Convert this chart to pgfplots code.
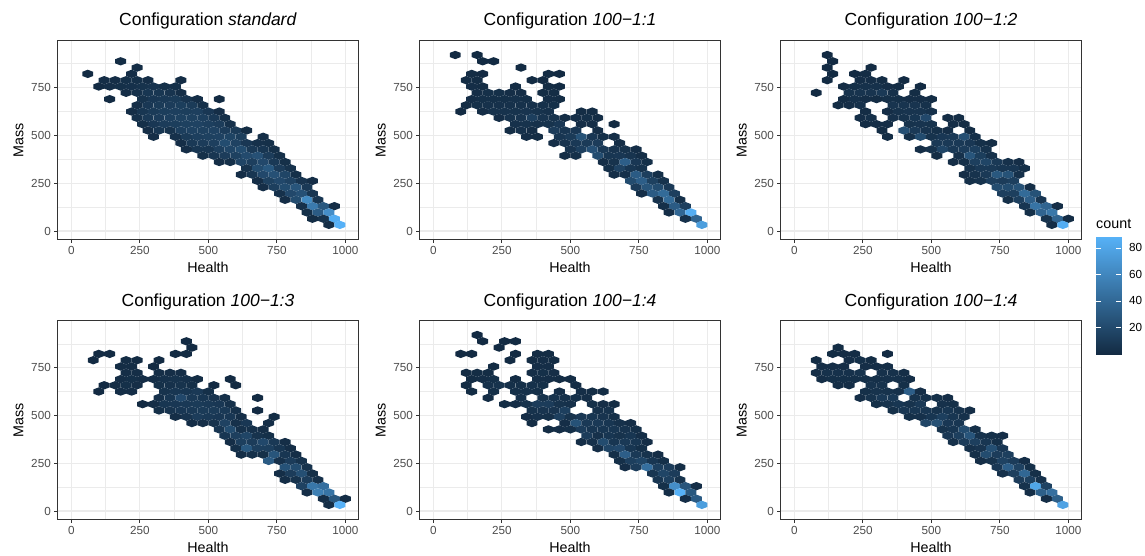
\documentclass[border=0pt]{standalone}
\usepackage{pgfplots}
\usepackage{fontspec}
\setmainfont{Liberation Sans}
\pgfplotsset{compat=1.18}
\definecolor{gridc}{HTML}{EBEBEB}
\definecolor{framec}{HTML}{333333}
\definecolor{tickc}{HTML}{4D4D4D}
\pgfdeclareplotmark{hex}{%
  \pgfpathmoveto{\pgfqpoint{0pt}{4.17pt}}%
  \pgfpathlineto{\pgfqpoint{5.45pt}{2.09pt}}%
  \pgfpathlineto{\pgfqpoint{5.45pt}{-2.09pt}}%
  \pgfpathlineto{\pgfqpoint{0pt}{-4.17pt}}%
  \pgfpathlineto{\pgfqpoint{-5.45pt}{-2.09pt}}%
  \pgfpathlineto{\pgfqpoint{-5.45pt}{2.09pt}}%
  \pgfpathclose\pgfusepathqfill}
\pgfplotsset{
  colormap={gg}{rgb255=(19,43,67) rgb255=(86,177,247)},
  hexpanel/.style={
    anchor=south west, scale only axis, width=301pt, height=199pt,
    xmin=-50.4, xmax=1048, ymin=-44.5, ymax=996.8,
    xtick={0,250,500,750,1000}, ytick={0,250,500,750},
    minor xtick={125,375,625,875}, minor ytick={125,375,625,875},
    grid=both,
    major grid style={color=gridc, line width=1.1pt},
    minor grid style={color=gridc, line width=0.55pt},
    tick align=outside, tick pos=left,
    major tick length=3.2pt, minor tick length=0pt,
    tick style={color=framec, line width=0.9pt},
    axis line style={color=framec, line width=1.1pt},
    ticklabel style={font=\fontsize{11.7}{13}\selectfont, text=tickc},
    /pgf/number format/assume math mode=true,
    /pgf/number format/1000 sep={},
    xticklabel style={yshift=0pt},
    xlabel=Health, ylabel=Mass,
    xlabel style={font=\fontsize{14.3}{16}\selectfont, at={(0.5,0)}, anchor=base, yshift=-33.5pt},
    ylabel style={font=\fontsize{14.3}{16}\selectfont, at={(0,0.5)}, anchor=base, rotate=0, yshift=34pt},
    title style={font=\fontsize{17.5}{20}\selectfont, at={(0.5,1)}, anchor=base, yshift=8.5pt},
    colormap name=gg, point meta min=1, point meta max=88,
  },
  hexes/.style={
    scatter, only marks, mark=hex, scatter src=explicit,
    scatter/use mapped color={fill=mapped color, draw=none},
  },
}
\begin{document}
\begin{tikzpicture}
\path[use as bounding box] (0,0) rectangle (1145pt,556pt);
% panel 1
\begin{axis}[hexpanel, at={(57.5pt,316.5pt)}, title={Configuration \textit{standard}}]
\addplot[hexes] coordinates {
(180,888)[2] (240,855)[2] (60,822)[1] (220,822)[3]
(120,789)[3] (160,789)[3] (200,789)[4] (240,789)[4] (280,789)[3] (400,789)[2]
(100,756)[1] (140,756)[3] (180,756)[4] (220,756)[5] (260,756)[6] (300,756)[7] (340,756)[4] (380,756)[4]
(200,723)[3] (240,723)[5] (280,723)[8] (320,723)[8] (360,723)[7] (400,723)[3]
(140,690)[1] (260,690)[6] (300,690)[9] (340,690)[10] (380,690)[11] (420,690)[7] (460,690)[3] (540,690)[1]
(240,658)[3] (280,658)[9] (320,658)[11] (360,658)[12] (400,658)[13] (440,658)[11] (480,658)[4]
(220,625)[3] (260,625)[8] (300,625)[11] (340,625)[13] (380,625)[14] (420,625)[13] (460,625)[14] (500,625)[9] (540,625)[3]
(240,592)[5] (280,592)[10] (320,592)[12] (360,592)[14] (400,592)[15] (440,592)[15] (480,592)[14] (520,592)[10] (560,592)[4]
(260,559)[4] (300,559)[9] (340,559)[12] (380,559)[13] (420,559)[15] (460,559)[16] (500,559)[14] (540,559)[12] (580,559)[5]
(280,526)[3] (320,526)[8] (360,526)[6] (400,526)[14] (440,526)[16] (480,526)[15] (520,526)[16] (560,526)[12] (600,526)[11] (640,526)[2]
(300,493)[3] (380,493)[5] (420,493)[11] (460,493)[14] (500,493)[15] (540,493)[16] (580,493)[17] (620,493)[13] (700,493)[3]
(400,460)[3] (440,460)[10] (480,460)[12] (520,460)[14] (560,460)[22] (600,460)[16] (640,460)[9] (680,460)[5] (720,460)[4]
(420,427)[3] (460,427)[8] (500,427)[8] (540,427)[14] (580,427)[18] (620,427)[22] (660,427)[10] (700,427)[8] (740,427)[4]
(480,394)[4] (520,394)[8] (560,394)[12] (600,394)[15] (640,394)[21] (680,394)[25] (720,394)[12] (760,394)[4]
(540,361)[3] (580,361)[4] (620,361)[18] (660,361)[14] (700,361)[20] (740,361)[10] (780,361)[4]
(640,328)[6] (680,328)[22] (720,328)[30] (760,328)[12] (800,328)[6]
(620,295)[3] (660,295)[8] (700,295)[20] (740,295)[25] (780,295)[18] (820,295)[4]
(680,262)[3] (720,262)[15] (760,262)[20] (800,262)[16] (840,262)[7] (880,262)[3]
(700,229)[3] (740,229)[14] (780,229)[22] (820,229)[28] (860,229)[10]
(760,196)[5] (800,196)[20] (840,196)[25] (880,196)[8]
(780,163)[3] (820,163)[22] (860,163)[62] (900,163)[8]
(840,130)[5] (880,130)[52] (920,130)[30] (960,130)[2]
(860,97)[4] (900,97)[32] (940,97)[65]
(880,64)[2] (920,64)[6] (960,64)[85]
(940,32)[3] (980,32)[88]
};
\end{axis}
% panel 2
\begin{axis}[hexpanel, at={(419.5pt,316.5pt)}, title={Configuration \textit{100−1:1}}]
\addplot[hexes] coordinates {
(80,921)[1] (160,921)[1] (180,888)[1] (220,888)[1] (320,855)[1]
(140,822)[2] (180,822)[1] (420,822)[2] (460,822)[1]
(120,789)[2] (160,789)[2] (360,789)[1] (400,789)[1]
(140,756)[3] (180,756)[2] (300,756)[2] (420,756)[2] (460,756)[1]
(160,723)[3] (200,723)[4] (240,723)[4] (280,723)[3] (320,723)[3] (400,723)[2] (440,723)[2]
(140,690)[3] (180,690)[4] (220,690)[4] (260,690)[4] (300,690)[5] (340,690)[4] (420,690)[3] (460,690)[2]
(120,658)[2] (160,658)[4] (200,658)[5] (240,658)[5] (280,658)[5] (320,658)[5] (360,658)[5] (400,658)[5] (440,658)[4]
(100,625)[1] (180,625)[3] (220,625)[6] (260,625)[6] (300,625)[6] (340,625)[7] (380,625)[6] (420,625)[5] (540,625)[2] (580,625)[2]
(240,592)[3] (280,592)[6] (320,592)[7] (360,592)[14] (400,592)[7] (440,592)[6] (480,592)[2] (520,592)[3] (560,592)[4] (600,592)[2]
(300,559)[5] (340,559)[6] (380,559)[5] (420,559)[6] (460,559)[9] (540,559)[3] (580,559)[3] (660,559)[1]
(280,526)[2] (320,526)[5] (360,526)[3] (440,526)[12] (480,526)[8] (520,526)[9] (600,526)[3]
(340,493)[3] (380,493)[2] (460,493)[8] (500,493)[11] (540,493)[26] (580,493)[9] (620,493)[4] (660,493)[3]
(440,460)[3] (480,460)[7] (520,460)[10] (560,460)[11] (600,460)[12] (680,460)[3]
(500,427)[7] (540,427)[14] (580,427)[25] (620,427)[10] (660,427)[7] (700,427)[6] (740,427)[3]
(480,394)[3] (520,394)[4] (600,394)[22] (640,394)[8] (680,394)[9] (720,394)[7] (760,394)[3]
(620,361)[3] (660,361)[6] (700,361)[34] (740,361)[9] (780,361)[4]
(640,328)[4] (680,328)[16] (720,328)[8] (760,328)[6]
(660,295)[3] (700,295)[5] (740,295)[32] (780,295)[14] (820,295)[4]
(720,262)[22] (760,262)[34] (800,262)[15] (840,262)[6]
(740,229)[12] (780,229)[28] (820,229)[22] (860,229)[10]
(760,196)[3] (800,196)[32] (840,196)[42] (880,196)[14]
(820,163)[6] (860,163)[42] (900,163)[4]
(840,130)[4] (880,130)[32] (920,130)[14]
(860,97)[3] (900,97)[40] (940,97)[85]
(920,64)[5] (960,64)[38]
(980,32)[75]
};
\end{axis}
% panel 3
\begin{axis}[hexpanel, at={(780.5pt,316.5pt)}, title={Configuration \textit{100−1:2}}]
\addplot[hexes] coordinates {
(120,921)[1] (140,888)[1] (120,855)[1] (280,855)[1]
(140,822)[1] (220,822)[1] (260,822)[2]
(120,789)[1] (240,789)[3] (280,789)[3] (320,789)[2] (400,789)[1]
(180,756)[2] (220,756)[4] (260,756)[5] (300,756)[5] (340,756)[3] (380,756)[2] (460,756)[1]
(80,723)[1] (200,723)[6] (240,723)[7] (280,723)[7] (320,723)[10] (360,723)[5] (440,723)[2]
(180,690)[2] (220,690)[5] (260,690)[3] (300,690)[2] (340,690)[4] (380,690)[4] (420,690)[3] (460,690)[3] (500,690)[2]
(160,658)[2] (200,658)[3] (240,658)[5] (360,658)[7] (400,658)[7] (440,658)[7] (480,658)[5]
(260,625)[2] (340,625)[3] (380,625)[6] (420,625)[7] (460,625)[7] (500,625)[5]
(240,592)[3] (280,592)[4] (360,592)[5] (400,592)[6] (440,592)[8] (480,592)[20] (560,592)[2] (600,592)[2]
(260,559)[2] (300,559)[3] (340,559)[3] (420,559)[6] (460,559)[7] (500,559)[6] (580,559)[3] (620,559)[2]
(320,526)[2] (400,526)[24] (440,526)[10] (480,526)[7] (520,526)[4] (560,526)[3] (640,526)[2]
(340,493)[2] (420,493)[4] (460,493)[22] (500,493)[6] (540,493)[9] (580,493)[10] (620,493)[24] (660,493)[4]
(520,460)[10] (560,460)[10] (600,460)[10] (640,460)[9] (680,460)[4] (720,460)[2]
(460,427)[3] (500,427)[6] (540,427)[18] (580,427)[10] (620,427)[12] (660,427)[14] (700,427)[6]
(520,394)[2] (600,394)[5] (640,394)[28] (680,394)[13] (720,394)[5]
(580,361)[3] (620,361)[4] (660,361)[14] (700,361)[18] (740,361)[10] (780,361)[5] (820,361)[3]
(640,328)[6] (680,328)[10] (720,328)[10] (760,328)[8] (800,328)[8] (840,328)[4]
(620,295)[3] (660,295)[6] (700,295)[10] (740,295)[30] (780,295)[26] (820,295)[5]
(640,262)[4] (680,262)[6] (720,262)[14] (760,262)[12] (800,262)[14]
(740,229)[22] (780,229)[22] (820,229)[26] (860,229)[3]
(760,196)[14] (800,196)[14] (840,196)[42] (880,196)[26]
(780,163)[4] (820,163)[14] (860,163)[34] (900,163)[8]
(840,130)[8] (880,130)[48] (920,130)[38] (960,130)[3]
(860,97)[4] (900,97)[38] (940,97)[50]
(920,64)[6] (960,64)[38] (1000,64)[2]
(940,32)[3] (980,32)[85]
};
\end{axis}
% panel 4
\begin{axis}[hexpanel, at={(57.5pt,36.5pt)}, title={Configuration \textit{100−1:3}}]
\addplot[hexes] coordinates {
(420,888)[1] (440,855)[1] (100,822)[1] (140,822)[1] (380,822)[1] (420,822)[1]
(80,789)[1] (200,789)[2] (240,789)[1] (320,789)[1]
(180,756)[2] (220,756)[2] (300,756)[1]
(200,723)[3] (240,723)[3] (320,723)[3] (360,723)[3] (400,723)[3]
(180,690)[3] (220,690)[4] (260,690)[3] (300,690)[3] (340,690)[5] (380,690)[6] (420,690)[5] (460,690)[2] (580,690)[1]
(120,658)[1] (160,658)[2] (200,658)[4] (240,658)[3] (320,658)[4] (360,658)[5] (400,658)[6] (440,658)[4] (520,658)[1] (600,658)[1]
(100,625)[1] (180,625)[3] (220,625)[3] (340,625)[6] (380,625)[8] (420,625)[8] (460,625)[10] (500,625)[4]
(320,592)[5] (360,592)[8] (400,592)[20] (440,592)[10] (480,592)[8] (520,592)[7] (560,592)[4] (680,592)[1]
(260,559)[1] (300,559)[3] (340,559)[8] (380,559)[9] (420,559)[10] (460,559)[11] (500,559)[10] (540,559)[9] (580,559)[5]
(320,526)[4] (360,526)[7] (400,526)[9] (440,526)[10] (480,526)[11] (520,526)[11] (560,526)[10] (600,526)[5] (680,526)[1]
(380,493)[3] (420,493)[7] (460,493)[12] (500,493)[10] (540,493)[9] (580,493)[9] (620,493)[3] (740,493)[2]
(440,460)[3] (480,460)[3] (520,460)[6] (560,460)[16] (600,460)[5] (640,460)[9] (720,460)[3]
(540,427)[8] (580,427)[22] (620,427)[5] (660,427)[5] (700,427)[3]
(560,394)[8] (600,394)[14] (640,394)[18] (680,394)[6] (720,394)[4]
(580,361)[3] (620,361)[14] (660,361)[12] (700,361)[20] (740,361)[10] (780,361)[3]
(600,328)[4] (640,328)[30] (680,328)[14] (720,328)[14] (760,328)[8] (800,328)[3]
(620,295)[3] (660,295)[5] (700,295)[4] (740,295)[28] (780,295)[8] (820,295)[3]
(720,262)[32] (760,262)[5] (800,262)[12] (840,262)[6]
(780,229)[26] (820,229)[22] (860,229)[6]
(760,196)[3] (800,196)[12] (840,196)[24] (880,196)[4]
(780,163)[3] (820,163)[6] (860,163)[12] (900,163)[5]
(840,130)[16] (880,130)[50] (920,130)[45]
(860,97)[3] (900,97)[55] (940,97)[48]
(920,64)[3] (960,64)[30] (1000,64)[2]
(940,32)[3] (980,32)[88]
};
\end{axis}
% panel 5
\begin{axis}[hexpanel, at={(419.5pt,36.5pt)}, title={Configuration \textit{100−1:4}}]
\addplot[hexes] coordinates {
(160,921)[1] (180,888)[1] (260,888)[1] (300,888)[1] (240,855)[1]
(100,822)[1] (140,822)[1] (300,822)[1] (380,822)[2] (420,822)[2]
(280,789)[1] (360,789)[2] (400,789)[3] (440,789)[2]
(220,756)[1] (380,756)[3] (420,756)[3]
(120,723)[2] (160,723)[2] (200,723)[2] (360,723)[3] (400,723)[4] (440,723)[3]
(140,690)[2] (180,690)[3] (220,690)[4] (300,690)[2] (380,690)[3] (420,690)[3] (460,690)[2] (500,690)[2]
(120,658)[2] (200,658)[5] (240,658)[6] (280,658)[4] (320,658)[4] (360,658)[5] (400,658)[4] (520,658)[2]
(140,625)[2] (220,625)[4] (300,625)[4] (340,625)[5] (380,625)[4] (460,625)[3] (540,625)[3] (580,625)[2] (620,625)[2]
(200,592)[2] (320,592)[5] (400,592)[6] (440,592)[6] (480,592)[5] (520,592)[4] (560,592)[3]
(260,559)[2] (300,559)[3] (340,559)[6] (380,559)[12] (420,559)[12] (460,559)[6] (500,559)[5] (580,559)[4] (620,559)[3] (660,559)[2]
(360,526)[6] (400,526)[7] (440,526)[7] (480,526)[14] (600,526)[5] (640,526)[6]
(340,493)[3] (380,493)[5] (420,493)[4] (460,493)[14] (500,493)[6] (540,493)[9] (580,493)[8] (620,493)[7] (660,493)[4]
(360,460)[2] (480,460)[3] (520,460)[26] (560,460)[10] (600,460)[10] (640,460)[8] (680,460)[5] (720,460)[3]
(420,427)[2] (460,427)[3] (500,427)[4] (540,427)[12] (580,427)[8] (620,427)[8] (660,427)[8] (700,427)[7] (740,427)[4]
(560,394)[12] (600,394)[5] (640,394)[8] (680,394)[6] (720,394)[8] (760,394)[3]
(540,361)[3] (580,361)[5] (620,361)[22] (660,361)[8] (700,361)[10] (740,361)[8] (780,361)[3]
(600,328)[3] (640,328)[18] (680,328)[20] (720,328)[8] (760,328)[4]
(660,295)[4] (700,295)[34] (740,295)[10] (780,295)[6] (820,295)[3]
(680,262)[4] (720,262)[14] (760,262)[18] (800,262)[8] (840,262)[4]
(700,229)[3] (740,229)[12] (780,229)[45] (820,229)[14] (860,229)[12] (900,229)[2]
(800,196)[8] (840,196)[18] (880,196)[12]
(820,163)[8] (860,163)[14] (900,163)[6]
(840,130)[4] (880,130)[65] (920,130)[28] (960,130)[3]
(860,97)[3] (900,97)[88] (940,97)[30]
(920,64)[3] (960,64)[32]
(980,32)[75]
};
\end{axis}
% panel 6
\begin{axis}[hexpanel, at={(780.5pt,36.5pt)}, title={Configuration \textit{100−1:4}}]
\addplot[hexes] coordinates {
(160,855)[2] (140,822)[2] (180,822)[2] (220,822)[2] (340,822)[1]
(80,789)[2] (200,789)[3] (240,789)[4] (280,789)[2]
(100,756)[3] (140,756)[3] (180,756)[3] (260,756)[3] (300,756)[3] (340,756)[3]
(80,723)[3] (120,723)[5] (160,723)[5] (200,723)[5] (240,723)[6] (320,723)[5] (360,723)[5] (400,723)[3]
(100,690)[3] (140,690)[4] (180,690)[4] (220,690)[4] (260,690)[4] (300,690)[4] (340,690)[5] (380,690)[5] (420,690)[3]
(160,658)[3] (200,658)[3] (280,658)[6] (320,658)[6] (400,658)[4]
(260,625)[4] (300,625)[6] (340,625)[6] (380,625)[5] (420,625)[34] (460,625)[3]
(240,592)[3] (280,592)[6] (320,592)[10] (360,592)[10] (440,592)[6] (480,592)[5] (520,592)[4] (560,592)[3]
(300,559)[4] (340,559)[6] (380,559)[8] (420,559)[6] (460,559)[10] (540,559)[5] (580,559)[4]
(360,526)[4] (400,526)[8] (440,526)[8] (480,526)[8] (520,526)[6] (560,526)[8] (600,526)[6] (640,526)[3]
(420,493)[4] (460,493)[5] (500,493)[8] (540,493)[14] (580,493)[8] (620,493)[5]
(480,460)[18] (520,460)[24] (560,460)[9] (600,460)[8]
(540,427)[6] (580,427)[8] (620,427)[22] (660,427)[4]
(560,394)[9] (600,394)[14] (640,394)[28] (680,394)[6] (720,394)[4] (760,394)[3]
(580,361)[5] (620,361)[12] (660,361)[14] (700,361)[8] (740,361)[4]
(640,328)[5] (680,328)[7] (720,328)[24] (760,328)[9]
(660,295)[4] (700,295)[22] (740,295)[12] (780,295)[14]
(680,262)[3] (720,262)[6] (760,262)[16] (800,262)[12] (840,262)[3]
(740,229)[9] (780,229)[34] (820,229)[16] (860,229)[4]
(760,196)[5] (800,196)[14] (840,196)[40] (880,196)[4]
(820,163)[12] (860,163)[14] (900,163)[5]
(840,130)[6] (880,130)[80] (920,130)[16]
(860,97)[3] (900,97)[35] (940,97)[45]
(920,64)[3] (960,64)[35]
(980,32)[78]
};
\end{axis}
% legend
\begin{axis}[at={(1096pt,201.7pt)}, anchor=south west, scale only axis, width=25pt, height=117.6pt,
  xmin=0, xmax=1, ymin=-0.5, ymax=88.5, xtick=\empty, ytick={20,40,60,80},
  axis on top, axis line style={draw=none}, tick align=inside, ytick pos=both,
  yticklabel pos=right, major tick length=5pt,
  tick style={color=white, line width=0.5pt},
  ticklabel style={font=\fontsize{11.7}{13}\selectfont, text=black},
  yticklabel style={xshift=4.5pt},
  /pgf/number format/assume math mode=true,
  colormap name=gg,
  title={count}, title style={font=\fontsize{14.3}{16}\selectfont, at={(0,1)}, anchor=base west, yshift=2pt, xshift=-3.3pt}]
\addplot[surf, shader=interp, mesh/rows=2, point meta=y] coordinates {(0,-0.5) (1,-0.5) (0,88.5) (1,88.5)};
\end{axis}
\end{tikzpicture}
\end{document}
